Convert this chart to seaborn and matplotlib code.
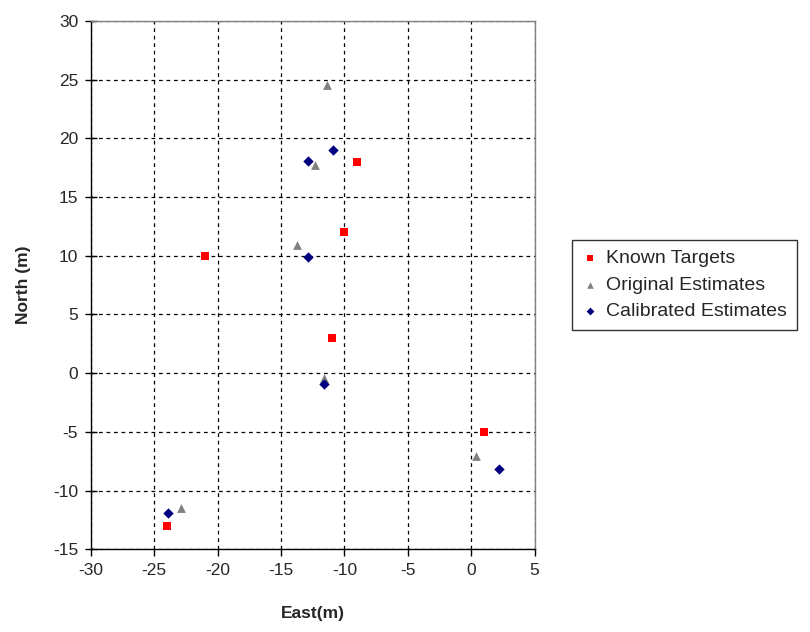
import pandas as pd
import numpy as np
import matplotlib.pyplot as plt
import seaborn as sns

# Values (metres)
known_east = [-21, -9, -10, -11, 1, -24]
known_north = [10, 18, 12, 3, -5, -13]

orig_east = [-13.7, -12.3, -11.4, -11.6, 0.4, -22.9]
orig_north = [10.9, 17.7, 24.5, -0.4, -7.1, -11.5]

calib_east = [-12.9, -12.9, -10.9, -11.6, 2.2, -23.9]
calib_north = [9.9, 18.1, 19.0, -0.9, -8.2, -11.9]

series_names = ['Known Targets', 'Original Estimates', 'Calibrated Estimates']

df = pd.concat([
    pd.DataFrame({'East': known_east, 'North': known_north, 'Series': series_names[0]}),
    pd.DataFrame({'East': orig_east, 'North': orig_north, 'Series': series_names[1]}),
    pd.DataFrame({'East': calib_east, 'North': calib_north, 'Series': series_names[2]}),
], ignore_index=True)

sns.set_style('white')
plt.rcParams['font.family'] = ['Liberation Sans', 'DejaVu Sans']
plt.rcParams['axes.unicode_minus'] = False

fig = plt.figure(figsize=(8.1, 6.32), dpi=100)
ax = fig.add_axes([0.112, 0.131, 0.548, 0.836])

palette = {series_names[0]: '#ff0000', series_names[1]: '#808080', series_names[2]: '#000080'}
markers = {series_names[0]: 's', series_names[1]: '^', series_names[2]: 'D'}
sizes = {series_names[0]: 40, series_names[1]: 40, series_names[2]: 28}

for name in series_names:
    sub = df[df['Series'] == name]
    sns.scatterplot(data=sub, x='East', y='North', color=palette[name],
                    marker=markers[name], s=sizes[name], linewidth=0,
                    label=name, ax=ax, zorder=3)

ax.set_xlim(-30, 5)
ax.set_ylim(-15, 30)
ax.set_xticks(np.arange(-30, 6, 5))
ax.set_yticks(np.arange(-15, 31, 5))
ax.grid(True, color='black', linestyle=(0, (3, 3)), linewidth=0.9)
ax.set_axisbelow(True)

for side in ['left', 'bottom']:
    ax.spines[side].set_color('black')
    ax.spines[side].set_linewidth(1.0)
for side in ['top', 'right']:
    ax.spines[side].set_color('#808080')
    ax.spines[side].set_linewidth(1.0)

ax.tick_params(axis='x', direction='out', length=5, width=1, color='black',
               labelsize=12.5, bottom=True, pad=5)
ax.tick_params(axis='y', direction='inout', length=8, width=1, color='black',
               labelsize=12.5, left=True, pad=5)

ax.set_xlabel('East(m)', fontsize=12.5, fontweight='bold', labelpad=20)
ax.set_ylabel('North (m)', fontsize=12.5, fontweight='bold', labelpad=16)

leg = ax.legend(loc='center left', bbox_to_anchor=(1.085, 0.5), borderaxespad=0,
                frameon=True, fontsize=14, handletextpad=0.45, borderpad=0.5,
                labelspacing=0.45, handlelength=0.8, markerscale=0.75,
                fancybox=False, edgecolor='black')
leg.get_frame().set_linewidth(1.0)

plt.savefig('out.png', dpi=100)
